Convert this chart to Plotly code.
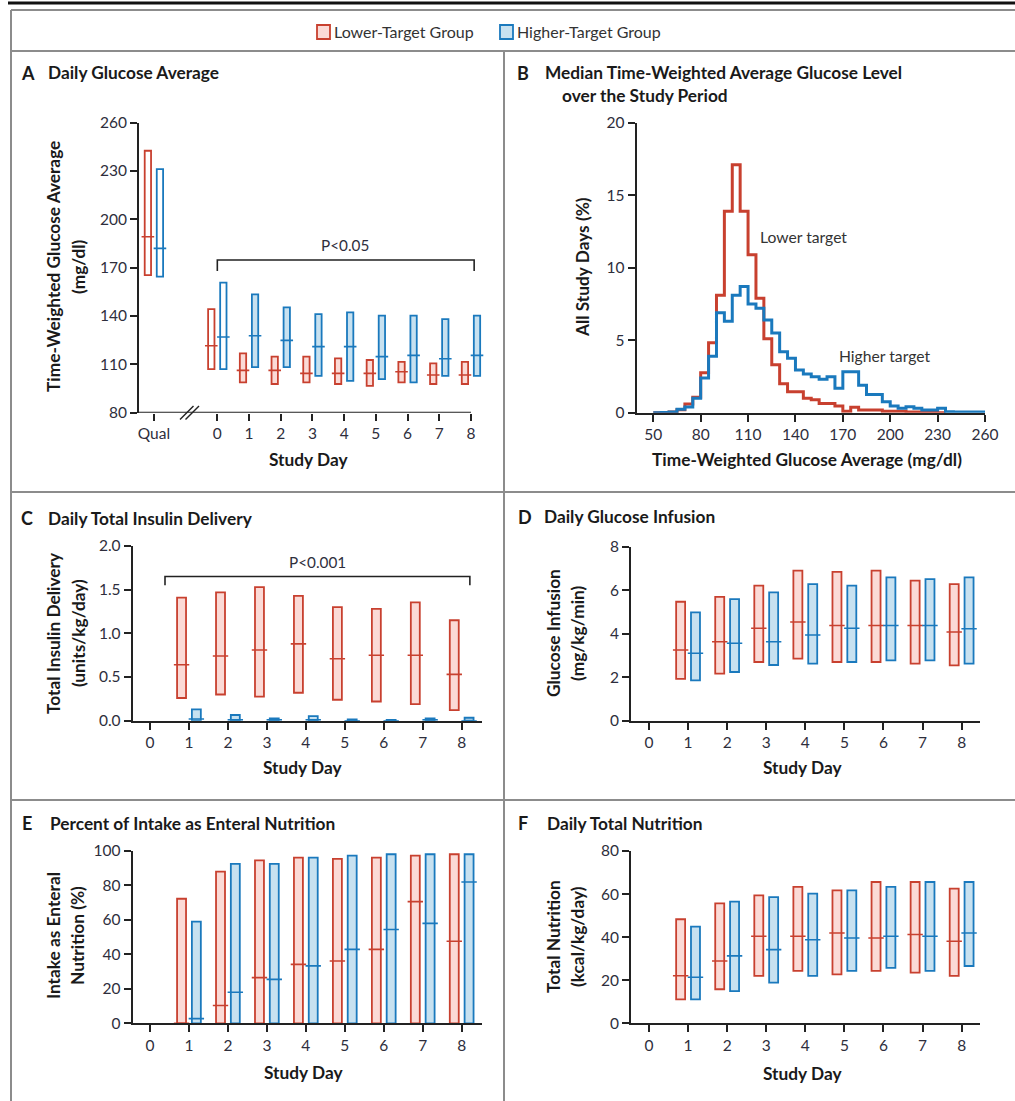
import plotly.graph_objects as go

W, H = 1015, 1101
FONT = "Lato"
RED = "#C8402F"
BLUE = "#1A79BD"
RED_FILL = "#FBDAD6"
BLUE_FILL = "#C7E1F0"
TXT = "#1a1a1a"
TICK = "#2e2e3c"
FRAME = "#8c8c8c"


def fx(p):
    return p / W


def fy(p):
    return 1 - p / H


# ---------------- DATA ----------------
# Panel A: daily glucose average (Qual, days 0-8), mg/dl
a_labels = ["Qual", "0", "1", "2", "3", "4", "5", "6", "7", "8"]
a_pos = [-2, 0, 1, 2, 3, 4, 5, 6, 7, 8]
a_low_hi = [242.6, 144.3, 116.8, 114.8, 114.8, 113.7, 112.7, 111.6, 110.6, 111.6]
a_low_med = [189.2, 121.6, 106.3, 106.3, 104.4, 104.4, 104.4, 105.4, 103.4, 103.4]
a_low_lo = [165.4, 107.1, 98.8, 97.8, 98.8, 97.8, 96.7, 98.8, 97.8, 97.8]
a_high_hi = [231.2, 160.7, 153.4, 145.4, 141.2, 142.3, 140.2, 140.2, 138.1, 140.2]
a_high_med = [182.0, 127.0, 127.8, 124.9, 121.0, 121.0, 114.8, 115.6, 113.5, 115.6]
a_high_lo = [164.4, 107.1, 108.3, 108.3, 102.9, 99.8, 100.9, 98.8, 102.9, 102.9]

# Panel B: histogram (5 mg/dl bins), % of study days
hist_bins = [50, 55, 60, 65, 70, 75, 80, 85, 90, 95, 100, 105, 110, 115, 120, 125,
             130, 135, 140, 145, 150, 155, 160, 165, 170, 175, 180, 185, 190, 195,
             200, 205, 210, 215, 220, 225, 230, 235, 240, 245, 250, 255, 260]
hist_low = [0, 0, 0.05, 0.2, 0.6, 1.06, 2.76, 4.83, 8.1, 13.9, 17.1, 13.9, 10.9, 7.9,
            5.1, 3.3, 2.0, 1.45, 1.45, 1.0, 0.9, 0.64, 0.64, 0.46, 0.1, 0.37, 0.18,
            0.18, 0.18, 0.1, 0.1, 0.1, 0.05, 0.05, 0.03, 0.03, 0.0]
hist_high = [0, 0.02, 0.05, 0.23, 0.4, 1.0, 2.4, 3.9, 6.9, 6.3, 8.1, 8.7, 7.5, 7.2,
             6.4, 5.5, 4.2, 3.75, 2.94, 2.67, 2.48, 2.3, 2.48, 1.68, 2.83, 2.83, 1.9,
             1.26, 1.26, 0.76, 0.46, 0.3, 0.41, 0.3, 0.18, 0.18, 0.3, 0.07, 0.05,
             0.05, 0.05, 0.05]

days = [1, 2, 3, 4, 5, 6, 7, 8]
day_ticks = [0, 1, 2, 3, 4, 5, 6, 7, 8]

# Panel C: total insulin delivery (units/kg/day)
c_low_hi = [1.41, 1.47, 1.53, 1.43, 1.30, 1.28, 1.355, 1.15]
c_low_med = [0.64, 0.74, 0.81, 0.88, 0.71, 0.75, 0.75, 0.53]
c_low_lo = [0.26, 0.30, 0.275, 0.32, 0.24, 0.22, 0.19, 0.12]
c_high_hi = [0.13, 0.065, 0.027, 0.053, 0.015, 0.01, 0.027, 0.034]
c_high_med = [0.02, 0.01, 0.01, 0.01, 0.0, 0.0, 0.01, 0.0]
c_high_lo = [0.0, 0.0, 0.0, 0.0, 0.0, 0.0, 0.0, 0.0]

# Panel D: glucose infusion (mg/kg/min)
d_low_hi = [5.47, 5.69, 6.21, 6.90, 6.84, 6.90, 6.44, 6.28]
d_low_med = [3.25, 3.63, 4.25, 4.54, 4.38, 4.38, 4.38, 4.08]
d_low_lo = [1.92, 2.16, 2.70, 2.85, 2.70, 2.70, 2.62, 2.54]
d_high_hi = [4.98, 5.59, 5.90, 6.28, 6.21, 6.59, 6.51, 6.59]
d_high_med = [3.10, 3.56, 3.63, 3.94, 4.25, 4.38, 4.38, 4.23]
d_high_lo = [1.85, 2.24, 2.56, 2.62, 2.70, 2.77, 2.77, 2.62]

# Panel E: intake as enteral nutrition (%)
e_low_hi = [72.3, 88.0, 94.6, 96.1, 95.4, 96.1, 97.3, 98.1]
e_low_med = [0.0, 10.3, 26.5, 34.2, 36.2, 42.9, 70.6, 47.6]
e_low_lo = [0, 0, 0, 0, 0, 0, 0, 0]
e_high_hi = [59.0, 92.5, 92.5, 96.1, 97.3, 98.1, 98.1, 98.1]
e_high_med = [2.7, 18.0, 25.5, 33.3, 42.9, 54.4, 58.0, 82.0]
e_high_lo = [0, 0, 0, 0, 0, 0, 0, 0]

# Panel F: total nutrition (kcal/kg/day)
f_low_hi = [48.3, 55.7, 59.4, 63.3, 61.7, 65.6, 65.6, 62.5]
f_low_med = [22.1, 28.9, 40.4, 40.4, 41.9, 39.6, 41.2, 38.1]
f_low_lo = [11.1, 15.8, 22.0, 24.3, 22.7, 24.3, 23.5, 22.0]
f_high_hi = [44.9, 56.5, 58.6, 60.2, 61.7, 63.3, 65.6, 65.6]
f_high_med = [21.4, 31.3, 34.2, 38.8, 39.6, 40.4, 40.4, 41.9]
f_high_lo = [11.1, 14.9, 18.9, 22.0, 24.3, 25.7, 24.3, 26.6]

# ---------------- FIGURE ----------------
fig = go.Figure()


def add_boxes(n, pos, lo, med, hi, color, fills, offset, width, msize):
    xa = "x" if n == 1 else f"x{n}"
    ya = "y" if n == 1 else f"y{n}"
    xs = [p + offset for p in pos]
    fig.add_trace(go.Bar(
        x=xs, y=[h - l for h, l in zip(hi, lo)], base=lo, width=width,
        marker=dict(color=fills, line=dict(color=color, width=1.8)),
        xaxis=xa, yaxis=ya, showlegend=False, hoverinfo="skip"))
    fig.add_trace(go.Scatter(
        x=xs, y=med, mode="markers", xaxis=xa, yaxis=ya, showlegend=False,
        marker=dict(symbol="line-ew", size=msize, line=dict(color=color, width=1.6)),
        hoverinfo="skip"))


OFF = 0.19
a_fill_low = ["white", "white"] + [RED_FILL] * 8
a_fill_high = ["white", "white"] + [BLUE_FILL] * 8
add_boxes(1, a_pos, a_low_lo, a_low_med, a_low_hi, RED, a_fill_low, -OFF, 0.2, 9)
add_boxes(1, a_pos, a_high_lo, a_high_med, a_high_hi, BLUE, a_fill_high, OFF, 0.2, 9)

nl = len(hist_low)
fig.add_trace(go.Scatter(x=hist_bins[:nl] + [hist_bins[nl]], y=hist_low + [hist_low[-1]],
                         mode="lines", line=dict(color=RED, width=3, shape="hv"),
                         xaxis="x2", yaxis="y2", showlegend=False, hoverinfo="skip"))
nh = len(hist_high)
fig.add_trace(go.Scatter(x=hist_bins[:nh] + [hist_bins[nh]], y=hist_high + [hist_high[-1]],
                         mode="lines", line=dict(color=BLUE, width=3, shape="hv"),
                         xaxis="x2", yaxis="y2", showlegend=False, hoverinfo="skip"))

for n, (llo, lmed, lhi, hlo, hmed, hhi) in zip(
        [3, 4, 5, 6],
        [(c_low_lo, c_low_med, c_low_hi, c_high_lo, c_high_med, c_high_hi),
         (d_low_lo, d_low_med, d_low_hi, d_high_lo, d_high_med, d_high_hi),
         (e_low_lo, e_low_med, e_low_hi, e_high_lo, e_high_med, e_high_hi),
         (f_low_lo, f_low_med, f_low_hi, f_high_lo, f_high_med, f_high_hi)]):
    add_boxes(n, days, llo, lmed, lhi, RED, RED_FILL, -OFF, 0.23, 11)
    add_boxes(n, days, hlo, hmed, hhi, BLUE, BLUE_FILL, OFF, 0.23, 11)

tickfont = dict(family=FONT, size=15.5, color=TICK)


def xaxis(dom, rng, tickvals, ticktext=None, showline=True, anchor="y"):
    d = dict(domain=[fx(dom[0]), fx(dom[1])], range=rng, tickvals=tickvals,
             showline=showline, linecolor="#222", linewidth=2, ticks="outside",
             ticklen=7, tickwidth=2, tickcolor="#222", showgrid=False, zeroline=False,
             tickfont=tickfont, anchor=anchor, fixedrange=True, automargin=False)
    if ticktext is not None:
        d["ticktext"] = ticktext
    return d


def yaxis(dom, rng, tickvals, anchor, fmt=None):
    d = dict(domain=[fy(dom[1]), fy(dom[0])], range=rng, tickvals=tickvals,
             showline=True, linecolor="#222", linewidth=2, ticks="outside",
             ticklen=7, tickwidth=2, tickcolor="#222", showgrid=False, zeroline=False,
             tickfont=tickfont, anchor=anchor, fixedrange=True, automargin=False)
    if fmt:
        d["tickformat"] = fmt
    return d


fig.update_layout(
    template="none",
    width=W, height=H, margin=dict(l=0, r=0, t=0, b=0, pad=0, autoexpand=False),
    paper_bgcolor="white", plot_bgcolor="rgba(0,0,0,0)",
    barmode="overlay", showlegend=False,
    font=dict(family=FONT, color=TXT),
    xaxis=xaxis((139, 490), [-2.47, 8.6], a_pos, a_labels, showline=False, anchor="y"),
    yaxis=yaxis((122.7, 412.7), [80, 260], [80, 110, 140, 170, 200, 230, 260], "x"),
    xaxis2=xaxis((636.7, 985), [39.5, 260], [50, 80, 110, 140, 170, 200, 230, 260], anchor="y2"),
    yaxis2=yaxis((122.7, 412.7), [0, 20], [0, 5, 10, 15, 20], "x2"),
    xaxis3=xaxis((132.7, 481.7), [-0.444, 8.514], day_ticks, anchor="y3"),
    yaxis3=yaxis((546, 720.7), [0, 2], [0, 0.5, 1.0, 1.5, 2.0], "x3", ".1f"),
    xaxis4=xaxis((631, 980), [-0.46, 8.47], day_ticks, anchor="y4"),
    yaxis4=yaxis((546.7, 720.7), [0, 8], [0, 2, 4, 6, 8], "x4"),
    xaxis5=xaxis((132.7, 481.7), [-0.444, 8.514], day_ticks, anchor="y5"),
    yaxis5=yaxis((851, 1023.3), [0, 100], [0, 20, 40, 60, 80, 100], "x5"),
    xaxis6=xaxis((631, 980), [-0.46, 8.47], day_ticks, anchor="y6"),
    yaxis6=yaxis((851, 1023.3), [0, 80], [0, 20, 40, 60, 80], "x6"),
)

shapes = []
# panel A x-axis line (stops at day 8)
shapes.append(dict(type="line", xref="x", yref="y", x0=-2.47, x1=8, y0=80, y1=80,
                   line=dict(color="#222", width=2)))
# axis break marks
for dx in (0, 5.5):
    shapes.append(dict(type="line", xref="paper", yref="paper",
                       x0=fx(180 + dx), y0=fy(419.5), x1=fx(193.5 + dx), y1=fy(406),
                       line=dict(color="#222", width=1.5)))
# significance brackets
shapes.append(dict(type="path", xref="x", yref="y",
                   path="M 0,168 L 0,174.8 L 8.1,174.8 L 8.1,168",
                   line=dict(color="#222", width=1.6)))
shapes.append(dict(type="path", xref="x3", yref="y3",
                   path="M 0.385,1.55 L 0.385,1.65 L 8.21,1.65 L 8.21,1.55",
                   line=dict(color="#222", width=1.6)))
# frames
frame = dict(color=FRAME, width=2)
shapes += [
    dict(type="line", xref="paper", yref="paper", x0=fx(8), x1=1, y0=fy(3), y1=fy(3),
         line=dict(color="#111", width=3)),
    dict(type="line", xref="paper", yref="paper", x0=fx(11), x1=1, y0=fy(10), y1=fy(10),
         line=frame),
    dict(type="line", xref="paper", yref="paper", x0=fx(11), x1=fx(11), y0=fy(10), y1=0,
         line=frame),
    dict(type="line", xref="paper", yref="paper", x0=fx(11), x1=1, y0=fy(51), y1=fy(51),
         line=frame),
    dict(type="line", xref="paper", yref="paper", x0=fx(11), x1=1, y0=fy(492), y1=fy(492),
         line=frame),
    dict(type="line", xref="paper", yref="paper", x0=fx(11), x1=1, y0=fy(800), y1=fy(800),
         line=frame),
    dict(type="line", xref="paper", yref="paper", x0=fx(504), x1=fx(504), y0=fy(51), y1=0,
         line=frame),
]
# legend swatches
shapes.append(dict(type="rect", xref="paper", yref="paper", x0=fx(317), x1=fx(330),
                   y0=fy(39), y1=fy(25), fillcolor=RED_FILL, line=dict(color=RED, width=1.8)))
shapes.append(dict(type="rect", xref="paper", yref="paper", x0=fx(500), x1=fx(513),
                   y0=fy(39), y1=fy(25), fillcolor=BLUE_FILL, line=dict(color=BLUE, width=1.8)))
fig.update_layout(shapes=shapes)

ann = []


def ptext(x, y, text, size=16, bold=False, xanchor="left", angle=0, color=TXT):
    t = f"<b>{text}</b>" if bold else text
    ann.append(dict(xref="paper", yref="paper", x=fx(x), y=fy(y), text=t, showarrow=False,
                    xanchor=xanchor, yanchor="middle", textangle=angle,
                    font=dict(family=FONT, size=size, color=color)))


ptext(332, 32, "Lower-Target Group", size=16, color="#333")
ptext(515, 32, "Higher-Target Group", size=16, color="#333")

TS = 17.3
titles = [
    (19, 46, 73, "A", "Daily Glucose Average"),
    (515, 543, 73, "B", "Median Time-Weighted Average Glucose Level"),
    (19, 46, 518, "C", "Daily Total Insulin Delivery"),
    (516, 542, 517, "D", "Daily Glucose Infusion"),
    (20, 48, 823, "E", "Percent of Intake as Enteral Nutrition"),
    (516, 545, 823, "F", "Daily Total Nutrition"),
]
for lx, tx, y, letter, title in titles:
    ptext(lx, y, letter, size=18, bold=True)
    ptext(tx, y, title, size=TS, bold=True)
ptext(560, 96, "over the Study Period", size=TS, bold=True)

AS = 17.3
ytitles = [
    (53, 267, "Time-Weighted Glucose Average"), (78, 267, "(mg/dl)"),
    (582, 267, "All Study Days (%)"),
    (53, 633, "Total Insulin Delivery"), (78, 633, "(units/kg/day)"),
    (553, 633, "Glucose Infusion"), (577, 633, "(mg/kg/min)"),
    (53, 936, "Intake as Enteral"), (77, 936, "Nutrition (%)"),
    (553, 937, "Total Nutrition"), (577, 937, "(kcal/kg/day)"),
]
for x, y, t in ytitles:
    ptext(x, y, t, size=AS, bold=True, xanchor="center", angle=-90)

xtitles = [(308, 460, "Study Day"), (807, 460, "Time-Weighted Glucose Average (mg/dl)"),
           (302, 767, "Study Day"), (802, 767, "Study Day"),
           (303, 1072, "Study Day"), (802, 1073, "Study Day")]
for x, y, t in xtitles:
    ptext(x, y, t, size=AS, bold=True, xanchor="center")

ann.append(dict(xref="x", yref="y", x=4.03, y=184, text="P<0.05", showarrow=False,
                font=dict(family=FONT, size=15.3, color=TICK)))
ann.append(dict(xref="x3", yref="y3", x=4.3, y=1.82, text="P<0.001", showarrow=False,
                font=dict(family=FONT, size=15.3, color=TICK)))
ann.append(dict(xref="x2", yref="y2", x=116.5, y=12.1, text="Lower target", showarrow=False,
                xanchor="left", font=dict(family=FONT, size=15.7, color="#333")))
ann.append(dict(xref="x2", yref="y2", x=166, y=3.9, text="Higher target", showarrow=False,
                xanchor="left", font=dict(family=FONT, size=15.7, color="#333")))
fig.update_layout(annotations=ann)

fig.write_html("out.html", config={"displayModeBar": False},
               post_script="document.body.style.margin='0';")
